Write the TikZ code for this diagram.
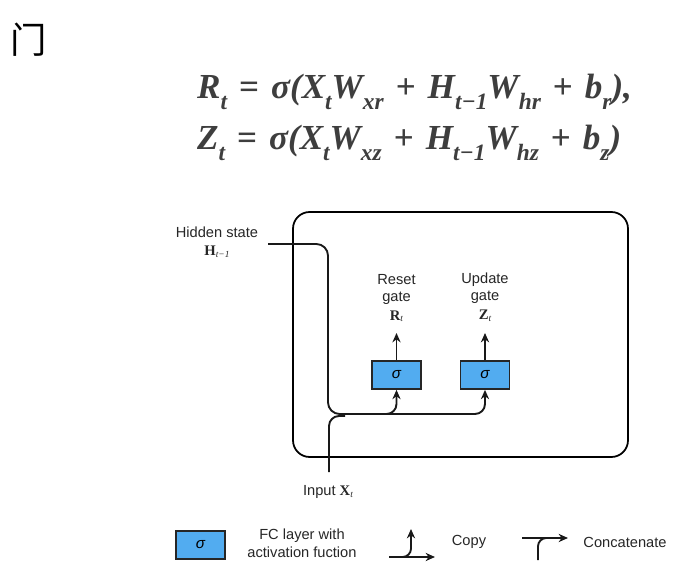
\documentclass[tikz,border=0pt]{standalone}
\usepackage{amsmath}
\usepackage[no-math]{fontspec}
\setmainfont{Liberation Sans}
\newfontfamily\serif{Liberation Serif}
\newfontfamily\cjk{Noto Sans CJK SC}
\usetikzlibrary{positioning}
\usetikzlibrary{arrows.meta}
\definecolor{fcblue}{RGB}{82,172,240}
\definecolor{eqgray}{RGB}{62,62,62}
\tikzset{
	wire/.style={line width=1.6pt, black!90},
	fcbox/.style={draw=black!85, fill=fcblue, line width=1.5pt, minimum width=1.47cm, minimum height=0.84cm, inner sep=0pt, font=\fontsize{13}{15}\selectfont\itshape},
	lbl/.style={font=\fontsize{12.5}{15}\selectfont, text=black!85, align=center, inner sep=0pt},
	eqline/.style={font=\fontsize{30}{34}\selectfont\serif\bfseries\itshape, text=eqgray, inner sep=0pt},
	>={Stealth[length=8pt,width=7pt]}
}
\newcommand{\sub}[1]{\raisebox{-0.3em}{\fontsize{20}{20}\selectfont #1}}
\newcommand{\op}[1]{\hspace{0.34em}{\upshape #1}\hspace{0.34em}}
\newcommand{\vsym}[2]{{\serif\bfseries #1}{\serif\itshape\fontsize{8}{8}\selectfont\raisebox{-0.35ex}{#2}}}
\newcommand{\gatelabel}[3]{
	\node[lbl] (#1) at #2 {#3};
}

\begin{document}
\begin{tikzpicture}[x=0.03cm, y=-0.03cm]
	\useasboundingbox (0,0) rectangle (697,571);

	%title and the two gate equations
	\node[font=\fontsize{31}{31}\selectfont] (title) at (29,40) {\cjk 门};
	\node[eqline, anchor=base west] (eqR) at (197,99) {R\sub{t}\op{=}σ(X\sub{t}W\sub{xr}\op{+}H\sub{t−1}W\sub{hr}\op{+}b\sub{r}),};
	\node[eqline, anchor=base west] (eqZ) at (197,150) {Z\sub{t}\op{=}σ(X\sub{t}W\sub{xz}\op{+}H\sub{t−1}W\sub{hz}\op{+}b\sub{z})};

	%the cell
	\draw[line width=1.5pt, rounded corners=0.5cm] (293,212) rectangle (628,457);

	%fc layers
	\node[fcbox] (reset) at (396.5,375) {σ};
	\node[fcbox] (update) at (485,375) {σ};

	%labels
	\gatelabel{hidlbl}{(217,242)}{Hidden state\\[1pt]\vsym{H}{t−1}}
	\gatelabel{rlbl}{(396.5,298)}{Reset\\gate\\[1pt]\vsym{R}{t}}
	\gatelabel{zlbl}{(485,297)}{Update\\gate\\[1pt]\vsym{Z}{t}}
	\gatelabel{xlbl}{(328,492)}{Input \vsym{X}{t}}

	%co-ordinates for the wires
	\coordinate (hin) at (268,244); %hin = hidden state in
	\coordinate (xin) at (329,472); %xin = input in
	\coordinate (hjoin) at (345,414);
	\coordinate (xjoin) at (345,416);
	\coordinate (rout) at (396.5,333);
	\coordinate (zout) at (485,333);

	%concatenate H and X
	\draw[wire, rounded corners=0.35cm] (hin) -| (328,414) -- (hjoin);
	\draw[wire, rounded corners=0.3cm] (xin) |- (xjoin);

	%copy into both gates
	\draw[wire, ->, rounded corners=0.3cm] (hjoin) -| (reset.south);
	\draw[wire, ->, rounded corners=0.3cm] (hjoin) -| (update.south);
	\draw[wire, ->] (reset.north) -- (rout);
	\draw[wire, ->] (update.north) -- (zout);

	%legend
	\node[fcbox] (legfc) at (200.5,545) {σ};
	\node[lbl] (legfctxt) at (302,543) {FC layer with\\activation fuction};

	\coordinate (cpL) at (389,557);
	\coordinate (cpR) at (435,557);
	\coordinate (cpU) at (411,529);
	\draw[wire, ->] (cpL) -- (cpR);
	\draw[wire, ->, rounded corners=0.25cm] (cpL) -| (cpU);
	\node[lbl] (copytxt) at (469,542) {Copy};

	\coordinate (ccL) at (522,538);
	\coordinate (ccR) at (568,538);
	\coordinate (ccB) at (538,560);
	\draw[wire, ->] (ccL) -- (ccR);
	\draw[wire, rounded corners=0.25cm] (ccB) |- (552,538);
	\node[lbl] (cctxt) at (625,542) {Concatenate};
\end{tikzpicture}
\end{document}
